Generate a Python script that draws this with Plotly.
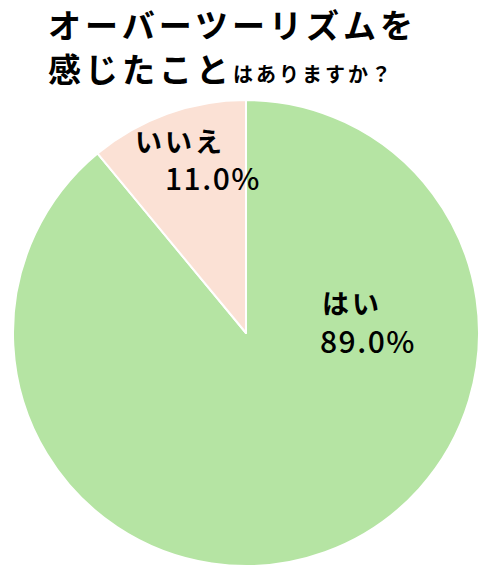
import plotly.graph_objects as go

labels = ["はい", "いいえ"]
values = [89.0, 11.0]
colors = ["#B5E4A3", "#FBE1D5"]
title_line1 = "オーバーツーリズムを"
title_line2_big = "感じたこと"
title_line2_small = "はありますか？"

W, H = 487, 572
FONT = "Noto Sans CJK JP"

def px(x):
    return x / W

def py(y):
    return 1 - y / H

fig = go.Figure(go.Pie(
    labels=labels, values=values, sort=False, direction="clockwise", rotation=0,
    marker=dict(colors=colors, line=dict(color="white", width=2)),
    textinfo="none", hoverinfo="label+percent", showlegend=False,
    domain=dict(x=[px(13), px(479)], y=[py(566), py(100)]),
))

BIG = "font-size:33px;letter-spacing:4px"
SMALL = "font-size:20px;letter-spacing:3px"
annotations = [
    dict(x=px(46), y=py(24), text=f"<b><span style='{BIG}'>{title_line1}</span></b>",
         font=dict(size=33, family=FONT, color="black"), xanchor="left", yanchor="middle", showarrow=False),
    dict(x=px(46), y=py(68),
         text=f"<b><span style='{BIG}'>{title_line2_big}</span><span style='{SMALL}'>{title_line2_small}</span></b>",
         font=dict(size=33, family=FONT, color="black"), xanchor="left", yanchor="middle", showarrow=False),
]

def add_label(lab, val, x1, y1, x2, y2):
    annotations.append(dict(x=px(x1), y=py(y1),
                            text=f"<b><span style='letter-spacing:3px'>{lab}</span></b>",
                            font=dict(size=27, family=FONT, color="black"),
                            xanchor="left", yanchor="middle", showarrow=False))
    annotations.append(dict(x=px(x2), y=py(y2),
                            text=f"<span style='letter-spacing:1.5px'>{val:.1f}%</span>",
                            font=dict(size=30, family=FONT, color="black", weight=500),
                            xanchor="left", yanchor="middle", showarrow=False))

add_label(labels[0], values[0], 320, 302, 318, 340)
add_label(labels[1], values[1], 133, 140, 163, 177)

fig.update_layout(width=W, height=H, margin=dict(l=0, r=0, t=0, b=0),
                  paper_bgcolor="white", plot_bgcolor="white", annotations=annotations)
fig.write_html("out.html", config={"displayModeBar": False},
               post_script="document.body.style.margin='0';")
